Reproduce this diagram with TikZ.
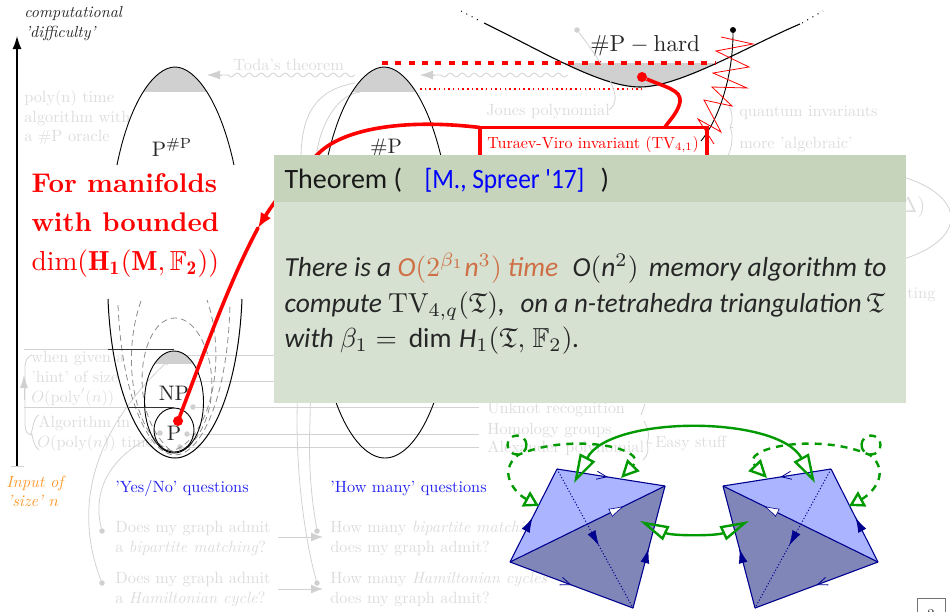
\documentclass[tikz,border=0pt]{standalone}
\usepackage{amsmath,amssymb}
\usepackage{fontspec}
\usetikzlibrary{arrows.meta,decorations.pathmorphing,decorations.markings}
\newfontfamily\thmfont{Carlito}
\definecolor{gtx}{HTML}{DCDCDC}
\definecolor{gln}{HTML}{D2D2D2}
\definecolor{capg}{HTML}{D0D0D0}
\definecolor{dtx}{HTML}{262626}
\definecolor{navyb}{HTML}{000090}
\definecolor{lface}{HTML}{ABB5FF}
\definecolor{dface}{HTML}{8087B8}
\definecolor{grn}{HTML}{009900}
\definecolor{thmhead}{HTML}{C6D4BC}
\definecolor{thmbody}{HTML}{D6E1D2}
\definecolor{thmorange}{HTML}{CF6F45}
\definecolor{qblue}{HTML}{2222F0}
\definecolor{orng}{HTML}{FF9A2E}
\newcommand{\sit}[1]{\mbox{\thmfont\itshape #1}}
\tikzset{
  lbl/.style={anchor=base west,inner sep=0pt,scale=1.63,text=gtx},
  dark/.style={anchor=base west,inner sep=0pt,scale=1.6,text=dtx},
  bigm/.style={anchor=base,inner sep=0pt,scale=2.1,text=dtx},
  rbig/.style={anchor=base west,inner sep=0pt,scale=2.7,text=red},
  thm/.style={anchor=base west,inner sep=0pt,scale=2.75,text=black!85,font=\thmfont\itshape},
  gline/.style={draw=gln,line width=0.9pt},
  gcurve/.style={draw=gln,line width=0.8pt},
  gdot/.style={circle,fill=capg,inner sep=0pt,minimum size=5.5pt},
  blk/.style={draw=black,line width=0.9pt},
  gdash/.style={draw=black!45,line width=0.8pt,dash pattern=on 6pt off 4pt},
  wave/.style={draw=gln,line width=0.8pt,decorate,decoration={snake,amplitude=2pt,segment length=12pt,post length=3pt}},
  gtip/.style={-{Latex[length=12pt,width=9pt,color=capg]}},
  rthick/.style={draw=red,line width=3.6pt},
  grnl/.style={draw=grn,line width=2.4pt},
  octedge/.style={draw=navyb,line width=1.1pt,line join=round},
  fillmark/.style={postaction={decorate},decoration={markings,mark=at position #1 with {\arrow{Latex[length=15pt,width=9pt,color=navyb]}}}},
  openmark/.style={postaction={decorate},decoration={markings,mark=at position #1 with {\arrow[navyb,line width=.8pt]{Straight Barb[length=10pt,width=8pt]}}}},
  whitemark/.style={postaction={decorate},decoration={markings,mark=at position #1 with {\arrow[line width=.6pt]{Latex[length=16pt,width=9pt,fill=white,color=navyb]}}}},
}
\newcommand{\halfocta}{%
  \coordinate (A) at (557,469);
  \coordinate (B) at (665,486);
  \coordinate (C) at (510,562);
  \coordinate (D) at (633,608);
  \fill[lface] (A) -- (B) -- (C) -- cycle;
  \fill[dface] (C) -- (B) -- (D) -- cycle;
  \draw[octedge,dotted,line width=1pt] (A) -- (D);
  \path[fillmark=.55] (A) -- (D);
  \draw[octedge,openmark=.47] (A) -- (B);
  \draw[octedge,fillmark=.48] (C) -- (A);
  \draw[octedge,whitemark=.74] (C) -- (B);
  \draw[octedge,openmark=.5] (C) -- (D);
  \draw[octedge,fillmark=.49] (D) -- (B);
  \draw[grnl,dash pattern=on 7pt off 6pt,{Triangle[open,length=15pt,width=17pt,fill=none]}-{Triangle[open,length=18pt,width=17pt,fill=none]}]
     (539,506) .. controls (515,493) and (497,472) .. (518,455) .. controls (570,432) and (650,448) .. (621,478);
  \draw[grnl,dash pattern=on 7pt off 6pt] (517,445) circle[radius=9.5pt];
}
\begin{document}
\begin{tikzpicture}[x=1pt,y=-1pt]
\useasboundingbox (0,0) rectangle (950,611);
\clip (0,0) rectangle (950,611);

% axis
\coordinate (axb) at (17,466);
\coordinate (axt) at (17,36);
\draw[gln,line width=1pt] (11,466) -- (24,466);
\draw[black,line width=1.4pt,-{Latex[length=13pt,width=9pt]}] (axb) -- (axt);
\node[dark,font=\itshape] (ax1) at (24,17) {computational};
\node[dark,font=\itshape] (ax2) at (25,37) {'difficulty'};
\node[lbl,text=orng,font=\itshape] (in1) at (6,487) {Input of};
\node[lbl,text=orng,font=\itshape] (in2) at (7,506) {'size' $n$};

% gray left texts
\node[lbl] (o1) at (24,102) {poly(n) time};
\node[lbl] (o2) at (24,122) {algorithm with};
\node[lbl] (o3) at (24,141) {a \#P oracle};
\node[lbl] (h1) at (31,362) {when given a};
\node[lbl] (h2) at (31,382) {'hint' of size};
\node[lbl] (h3) at (31,402) {$O(\mathrm{poly}'(n))$};
\node[lbl] (a1) at (38,427) {Algorithm in};
\node[lbl] (a2) at (37,447) {$O(\mathrm{poly}(n))$ time};

% brackets at left
\draw[gcurve] (25,407) -- (25,368) .. controls (25,360) and (28,356) .. (32,355);
\draw[gln,-{Latex[length=13pt,width=8pt,color=capg]},line width=.8pt] (24,400) -- (24,375);
\draw[gcurve] (25,407) -- (25,425) .. controls (25,432) and (28,435) .. (33,435);
\draw[gcurve] (39,415) .. controls (33,418) and (33,430) .. (31,433) .. controls (33,436) and (33,446) .. (39,450);

% horizontal gray lines
\draw[gline] (24,349) -- (108,349);
\draw[gline] (24,407) -- (129,407);
\node[gdot] (d1) at (167,362) {};
\node[gdot] (d2) at (160,433) {};
\node[gdot] (d3) at (193,407) {};
\node[gdot] (d4) at (187,434) {};
\node[gdot] (d5) at (180,447) {};
\draw[gline] (187,355) -- (480,355);
\draw[gline] (190,381) -- (480,381);
\coordinate (e3) at (479,407);
\coordinate (e4) at (479,433);
\coordinate (e5) at (479,447);
\draw[gline] (d3) -- (e3);
\draw[gline] (d4) -- (d4 -| e4);
\draw[gline] (d5) -- (d5 -| e5);

% questions
\node[lbl,text=qblue] (yn) at (115,492) {'Yes/No' questions};
\node[lbl,text=qblue] (hm) at (330,492) {'How many' questions};
\node[lbl] (q1) at (115,532) {Does my graph admit};
\node[lbl] (q1b) at (115,552) {a \textit{bipartite matching}?};
\node[lbl] (q2) at (115,583) {Does my graph admit};
\node[lbl] (q2b) at (115,603) {a \textit{Hamiltonian cycle}?};
\node[lbl] (r1) at (330,532) {How many \textit{bipartite matching}};
\node[lbl] (r1b) at (330,552) {does my graph admit?};
\node[lbl] (r2) at (330,583) {How many \textit{Hamiltonian cycles}};
\node[lbl] (r2b) at (330,603) {does my graph admit?};
\coordinate (s1) at (278,537); \coordinate (t1) at (323,537);
\coordinate (s2) at (278,589); \coordinate (t2) at (323,589);
\draw[gline,gtip] (s1) -- (t1);
\draw[gline,gtip] (s2) -- (t2);
\node[gdot] (k1) at (102,531) {};
\node[gdot] (k2) at (102,583) {};
\node[gdot] (k3) at (317,531) {};
\node[gdot] (k4) at (317,583) {};
\draw[gcurve] (d1) .. controls (100,425) and (70,500) .. (k2);
\draw[gcurve] (d2) .. controls (110,455) and (92,490) .. (k1);
\coordinate (cp1) at (355,83);
\coordinate (cp2) at (360,92);
\draw[gcurve] (cp1) .. controls (315,90) and (301,115) .. (301,160) -- (297,420) .. controls (297,480) and (305,540) .. (k4);
\draw[gcurve] (cp2) .. controls (335,95) and (318,130) .. (316,160) -- (310,420) .. controls (308,470) and (312,500) .. (k3);

% top left parabola
\begin{scope}
\clip (100,63) rectangle (250,91);
\fill[capg] (117,165) .. controls (130,100) and (155,67) .. (175,67) .. controls (195,67) and (220,100) .. (234,165) -- cycle;
\end{scope}
\draw[blk] (117,165) .. controls (130,100) and (155,67) .. (175,67) .. controls (195,67) and (220,100) .. (234,165);
\node[bigm] (pp) at (172,156) {$\mathrm{P}^{\#\mathrm{P}}$};
% top right parabola
\begin{scope}
\clip (310,63) rectangle (460,91);
\fill[capg] (326,165) .. controls (339,100) and (364,67) .. (384,67) .. controls (404,67) and (429,100) .. (443,165) -- cycle;
\end{scope}
\draw[blk] (326,165) .. controls (339,100) and (364,67) .. (384,67) .. controls (404,67) and (429,100) .. (443,165);
\node[bigm] (sp) at (386,153) {$\#\mathrm{P}$};
% lower parabolas
\draw[blk,line width=1pt] (108,299) .. controls (112,400) and (145,458) .. (175,458) .. controls (205,458) and (238,400) .. (242,299);
\draw[blk] (318,299) .. controls (322,400) and (355,458) .. (385,458) .. controls (415,458) and (448,400) .. (452,299);
% dashes
\draw[gdash] (118,305) .. controls (122,400) and (150,455) .. (175,455) .. controls (200,455) and (228,400) .. (230,303);
\draw[gdash] (141,301) .. controls (120,360) and (135,440) .. (172,451) .. controls (210,440) and (228,360) .. (207,300);
\draw[gdash] (170,450) .. controls (125,410) and (140,318) .. (175,318) .. controls (210,318) and (232,410) .. (185,450);
\begin{scope}
\clip (130,345) rectangle (220,363);
\fill[capg] (174,402) ellipse[x radius=29.5pt,y radius=51pt];
\end{scope}
\draw[blk] (174,402) ellipse[x radius=29.5pt,y radius=51pt];
\draw[blk] (174,430) ellipse[x radius=20pt,y radius=22pt];
\draw[draw=black!80,line width=.9pt] (108,349) -- (174,349);
\draw[draw=black!80,line width=.9pt] (129,407) -- (174,407);
\node[bigm] (np) at (174,400) {NP};
\node[bigm] (pn) at (174,440) {P};

% hard curve
\begin{scope}
\clip (530,63) rectangle (760,100);
\fill[capg] (484,23) .. controls (540,50) and (600,87) .. (640,87) .. controls (680,87) and (750,45) .. (800,24) -- cycle;
\end{scope}
\draw[black,line width=1.1pt] (484,23) .. controls (540,50) and (600,87) .. (640,87) .. controls (680,87) and (750,45) .. (800,24);
\draw[black,line width=1pt,dash pattern=on 1pt off 5pt] (461,11) -- (482,22);
\draw[black,line width=1pt,dash pattern=on 1pt off 5pt] (802,23) -- (823,11);
\node[bigm,anchor=base west,scale=1.1] (hard) at (590,51) {$\#\mathrm{P}-\mathrm{hard}$};
\draw[red,line width=3.2pt,dash pattern=on 6pt off 7.3pt] (382,63) -- (716,63);
\draw[draw=red,line width=1.5pt,dash pattern=on 1.5pt off 3.2pt] (420,89) -- (645,89);

% waves & toda
\node[lbl] (toda) at (233,70) {Toda's theorem};
\coordinate (w1a) at (355,75); \coordinate (w1b) at (207,75);
\coordinate (w2a) at (568,75); \coordinate (w2b) at (420,75);
\draw[wave] (w1a) -- (220,75);
\draw[gln,-{Latex[length=13pt,width=9pt,color=capg]}] (222,75) -- (w1b);
\draw[wave] (w2a) -- (433,75);
\draw[gln,-{Latex[length=13pt,width=9pt,color=capg]}] (435,75) -- (w2b);

% jones
\node[lbl] (jones) at (486,115) {Jones polynomial};
\node[gdot,minimum size=5.5pt] (jd) at (577,30) {};
\draw[gcurve] (jd) .. controls (600,60) and (612,80) .. (615,95) .. controls (616,103) and (612,108) .. (609,110);

% right gray labels
\node[lbl] (qi) at (739,116) {quantum invariants};
\node[lbl] (alg) at (739,148) {more 'algebraic'};
\draw[gcurve] (729,106) .. controls (733,115) and (733,122) .. (730,127) .. controls (733,132) and (733,145) .. (728,156);
\draw[gcurve] (730,127) -- (733,127);
\draw[gcurve] (840,218) ellipse[x radius=111pt,y radius=50pt];
\node[lbl,anchor=base east,scale=1.32] (dl) at (926,212) {$\Delta)$};
\node[lbl] (ting) at (907,298) {ting};
\node[lbl] (un) at (487,413) {Unknot recognition};
\node[lbl] (ho) at (487,434) {Homology groups};
\node[lbl] (al) at (487,452) {Alexander polynomial};
\node[lbl] (ez) at (655,447) {Easy stuff};
\draw[gcurve] (645,404) -- (641,415);
\draw[gcurve] (644,421) .. controls (650,432) and (649,438) .. (647,443) -- (652,443);
\draw[gcurve] (647,443) .. controls (649,450) and (648,455) .. (643,460);

% quantum black + zigzag
\node[circle,fill=black,inner sep=0pt,minimum size=6pt] (qd) at (733,30) {};
\draw[black,line width=.9pt] (qd) .. controls (733,70) and (722,115) .. (701,141);
\draw[red,line width=.8pt] (721,37) -- (753,44) -- (716,51) -- (749,67) -- (713,73) -- (747,88) -- (712,87) -- (732,106) -- (704,100) -- (721,132) -- (698,119) -- (714,144);

% red box
\draw[rthick,line cap=butt] (480,156) -- (480,127.5) -- (707,127.5) -- (707,156);
\node[lbl,text=red,scale=.985] (tv) at (487,148) {Turaev-Viro invariant (TV$_{4,1}$)};
\coordinate (c1) at (665,127);
\node[circle,fill=red,inner sep=0pt,minimum size=10pt] (cd) at (642,77) {};
\draw[rthick] (cd) .. controls (665,87) and (682,90) .. (680,102) .. controls (678,112) and (670,120) .. (c1);

% big red arrow
\coordinate (tip) at (258,228);
\node[circle,fill=red,inner sep=0pt,minimum size=10pt] (pd) at (178,421) {};
\draw[rthick,line cap=round] (pd) .. controls (205,350) and (230,280) .. (tip);
\draw[rthick,-{Latex[length=15pt,width=12pt]}] (480,127.5) .. controls (400,118) and (340,130) .. (317,155) .. controls (290,180) and (272,205) .. (tip);

% red text
\node[rbig,font=\bfseries] (f1) at (31,192) {For manifolds};
\node[rbig,font=\bfseries] (f2) at (31,231) {with bounded};
\node[rbig,scale=1.02] (f3) at (31,270) {$\dim(\mathbf{H_1(M,}\,\mathbb{F}_{\mathbf{2}}\mathbf{)})$};

% theorem
\fill[thmbody] (274,155) rectangle (906,403);
\fill[thmhead] (274,155) rectangle (906,202);
\node[anchor=base west,inner sep=0pt,scale=2.8,text=black!90,font=\thmfont] (th) at (284,188) {Theorem (};
\node[anchor=base west,inner sep=0pt,xscale=2.53,yscale=2.8,text=blue,font=\thmfont] (cite) at (424,188) {[M., Spreer '17]};
\node[anchor=base west,inner sep=0pt,scale=2.8,text=black!90,font=\thmfont] (cl) at (600,188) {)};
\node[thm] (l1) at (284,276) {There is a {\color{thmorange}$\sit{O}(2^{\beta_1}\sit{n}^3)$ time}\hspace{3pt} $\sit{O}(\sit{n}^2)$\hspace{1.5pt} memory algorithm to};
\node[thm] (l2) at (284,312) {compute $\mathrm{TV}_{4,q}(\mathfrak{T})$,};
\node[anchor=base west,inner sep=0pt,xscale=2.69,yscale=2.75,text=black!85,font=\thmfont\itshape] (l2b) at (520,312) {on a \textit{n}-tetrahedra triangulation};
\node[thm] (l2c) at (866,312) {$\mathfrak{T}$};
\node[thm] (l3) at (284,347) {with $\beta_1=\hspace{1.5pt}\mbox{\thmfont\upshape dim}\;\sit{H}_1(\mathfrak{T},\hspace{1pt}\mathbb{F}_2)$.};

% octahedra
\halfocta
\begin{scope}[xshift=1388pt,xscale=-1]
\halfocta
\end{scope}
\coordinate (g1) at (574,483); \coordinate (g2) at (815,483);
\coordinate (g3) at (640,521); \coordinate (g4) at (749,521);
\draw[grnl,{Triangle[open,length=29pt,width=17pt,fill=none]}-{Triangle[open,length=29pt,width=17pt,fill=none]}] (g1) .. controls (610,415) and (778,415) .. (g2);
\draw[grnl,{Triangle[open,length=29pt,width=15pt,fill=none]}-{Triangle[open,length=29pt,width=15pt,fill=none]}] (g3) .. controls (672,536) and (717,536) .. (g4);

% page number
\draw[black!55,line width=.9pt] (917,620) -- (917,598) -- (945,598) -- (945,620);
\node[lbl,text=black!70,anchor=base] (pg) at (931,620) {3};
\end{tikzpicture}
\end{document}
